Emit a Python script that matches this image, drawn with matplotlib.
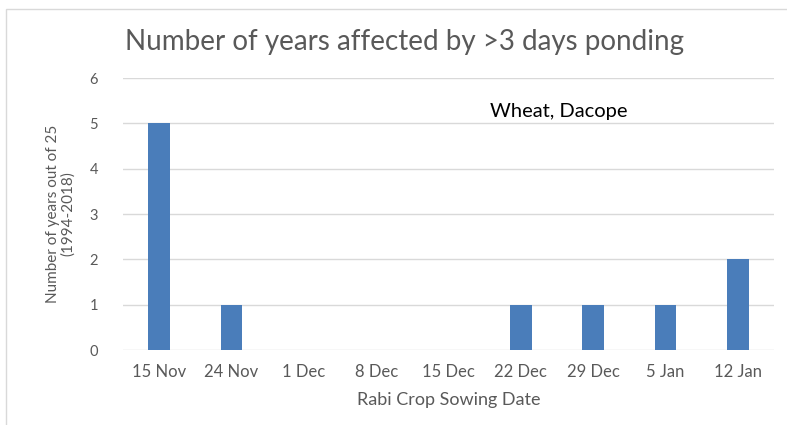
import matplotlib.pyplot as plt
from matplotlib.patches import Rectangle

# data
dates = ["15 Nov", "24 Nov", "1 Dec", "8 Dec", "15 Dec", "22 Dec", "29 Dec", "5 Jan", "12 Jan"]
years_affected = [5, 1, 0, 0, 0, 1, 1, 1, 2]

plt.rcParams['font.family'] = ['Lato', 'DejaVu Sans']
text_gray = '#595959'

fig = plt.figure(figsize=(7.87, 4.25), dpi=100)
ax = fig.add_axes([123 / 787, 1 - 350 / 425, 651 / 787, 272 / 425])

x = range(len(dates))
ax.bar(x, years_affected, width=0.3, color='#4A7DBA', zorder=3)

ax.set_xlim(-0.5, len(dates) - 0.5)
ax.set_ylim(0, 6)
ax.set_yticks(range(0, 7))
ax.set_xticks(list(x))
ax.set_xticklabels(dates)
ax.tick_params(axis='both', length=0, colors=text_gray)
ax.tick_params(axis='x', pad=10, labelsize=12)
ax.tick_params(axis='y', pad=18, labelsize=10.5)
ax.grid(axis='y', color='#D9D9D9', linewidth=1, zorder=0)
for s in ax.spines.values():
    s.set_visible(False)

ax.set_xlabel("Rabi Crop Sowing Date", color=text_gray, fontsize=13, labelpad=9)
ax.set_ylabel("Number of years out of 25\n(1994-2018)", color=text_gray, fontsize=11,
              labelpad=10, linespacing=1.1)
fig.text(125 / 787, 1 - 42 / 425, "Number of years affected by >3 days ponding",
         color=text_gray, fontsize=20, ha='left', va='center')
ax.text(4.57, 5.25, "Wheat, Dacope", fontsize=14.5, color='black', ha='left', va='center')

# chart frame
fig.patches.append(Rectangle((6 / 787, -0.1), 1.2, 1 - 9 / 425 + 0.1, transform=fig.transFigure,
                             fill=False, edgecolor='#D9D9D9', linewidth=1))

fig.savefig("out.png", dpi=100)
